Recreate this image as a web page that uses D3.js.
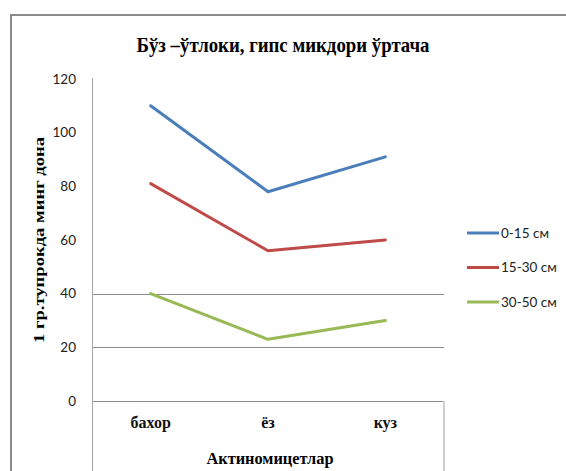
<!DOCTYPE html>
<html>
<head>
<meta charset="utf-8">
<script src="https://cdn.jsdelivr.net/npm/d3@7"></script>
<style>
  html, body { margin: 0; padding: 0; background: #fff; }
  svg { display: block; }
</style>
</head>
<body>
<svg id="chart" width="566" height="471"></svg>
<script>
// Seasons along the x axis
const categories = ["бахор", "ёз", "куз"];
// Soil depth layers (series)
const seriesNames = ["0-15 см", "15-30 см", "30-50 см"];
// Actinomycetes, thousand per 1 g of soil
const depth0to15 = [110, 78, 91];
const depth15to30 = [81, 56, 60];
const depth30to50 = [40, 23, 30];
// Y axis ticks and the horizontal grid lines that are drawn
const yTicks = [0, 20, 40, 60, 80, 100, 120];
const gridValues = [0, 20, 40];

const seriesValues = [depth0to15, depth15to30, depth30to50];
const colors = ["#4a7ebb", "#be4b48", "#98b954"];

const svg = d3.select("#chart");
const W = 566, H = 471;

const plot = { left: 92, right: 444, top: 79, bottom: 401 };

const x = d3.scaleBand().domain(categories).range([plot.left, plot.right]);
const y = d3.scaleLinear().domain([0, 120]).range([plot.bottom, plot.top]);

// Outer frame (top and left edges)
svg.append("line").attr("x1", 10).attr("x2", W).attr("y1", 15).attr("y2", 15)
  .attr("stroke", "#8a8a8a").attr("stroke-width", 2);
svg.append("line").attr("x1", 11).attr("x2", 11).attr("y1", 15).attr("y2", H)
  .attr("stroke", "#8a8a8a").attr("stroke-width", 2);

// Title
svg.append("text")
  .attr("x", 283).attr("y", 52)
  .attr("text-anchor", "middle")
  .attr("font-family", "'Liberation Serif', 'Times New Roman', serif")
  .attr("font-weight", "bold")
  .attr("font-size", 21)
  .attr("textLength", 293).attr("lengthAdjust", "spacingAndGlyphs")
  .attr("fill", "#000")
  .text("Бўз –ўтлоки, гипс микдори ўртача");

// Grid lines
svg.append("g").selectAll("line").data(gridValues).join("line")
  .attr("x1", plot.left).attr("x2", plot.right)
  .attr("y1", d => Math.round(y(d)) + 0.5).attr("y2", d => Math.round(y(d)) + 0.5)
  .attr("stroke", "#8c8c8c").attr("stroke-width", 1);

// Y axis labels
const yAxis = d3.axisLeft(y).tickValues(yTicks).tickSize(0).tickPadding(16);
const gy = svg.append("g").attr("transform", `translate(${plot.left},0)`).call(yAxis);
gy.select(".domain").remove();
gy.selectAll("text")
  .attr("font-family", "Lato, 'Open Sans', sans-serif")
  .attr("font-size", 13.5)
  .attr("fill", "#222");

// Y axis line running down through the category row
svg.append("line")
  .attr("x1", plot.left + 0.5).attr("x2", plot.left + 0.5)
  .attr("y1", plot.top - 1).attr("y2", H)
  .attr("stroke", "#a6a6a6").attr("stroke-width", 1);
// Right edge of the category row
svg.append("line")
  .attr("x1", plot.right).attr("x2", plot.right)
  .attr("y1", plot.bottom).attr("y2", H)
  .attr("stroke", "#cfcfcf").attr("stroke-width", 2);

// Category labels
const xAxis = d3.axisBottom(x).tickSize(0).tickPadding(16);
const gx = svg.append("g").attr("transform", `translate(0,${plot.bottom})`).call(xAxis);
gx.select(".domain").remove();
gx.selectAll("text")
  .attr("font-family", "'Liberation Serif', 'Times New Roman', serif")
  .attr("font-weight", "bold")
  .attr("font-size", 16)
  .attr("fill", "#111");

// Axis titles
svg.append("text")
  .attr("x", 270).attr("y", 464)
  .attr("text-anchor", "middle")
  .attr("font-family", "'Liberation Serif', 'Times New Roman', serif")
  .attr("font-weight", "bold")
  .attr("font-size", 17)
  .attr("textLength", 127).attr("lengthAdjust", "spacingAndGlyphs")
  .attr("fill", "#000")
  .text("Актиномицетлар");

svg.append("text")
  .attr("transform", "translate(44,240) rotate(-90)")
  .attr("text-anchor", "middle")
  .attr("font-family", "'Liberation Serif', 'Times New Roman', serif")
  .attr("font-weight", "bold")
  .attr("font-size", 15)
  .attr("textLength", 206).attr("lengthAdjust", "spacingAndGlyphs")
  .attr("fill", "#000")
  .text("1 гр.тупрокда минг дона");

// Series lines
const line = d3.line()
  .x((d, i) => x(categories[i]) + x.bandwidth() / 2)
  .y(d => y(d));

svg.append("g").selectAll("path").data(seriesValues).join("path")
  .attr("d", d => line(d))
  .attr("fill", "none")
  .attr("stroke", (d, i) => colors[i])
  .attr("stroke-width", 3)
  .attr("stroke-linejoin", "round")
  .attr("stroke-linecap", "round");

// Legend
const legendY = d3.scalePoint().domain(seriesNames).range([233, 302]);
const legend = svg.append("g").selectAll("g").data(seriesNames).join("g")
  .attr("transform", d => `translate(467,${legendY(d)})`);
legend.append("line")
  .attr("x1", 0).attr("x2", 32).attr("y1", 0).attr("y2", 0)
  .attr("stroke", (d, i) => colors[i]).attr("stroke-width", 3);
legend.append("text")
  .attr("x", 34).attr("y", 0).attr("dy", "0.35em")
  .attr("font-family", "Lato, 'Open Sans', sans-serif")
  .attr("font-size", 13.5)
  .attr("fill", "#222")
  .text(d => d);
</script>
</body>
</html>
